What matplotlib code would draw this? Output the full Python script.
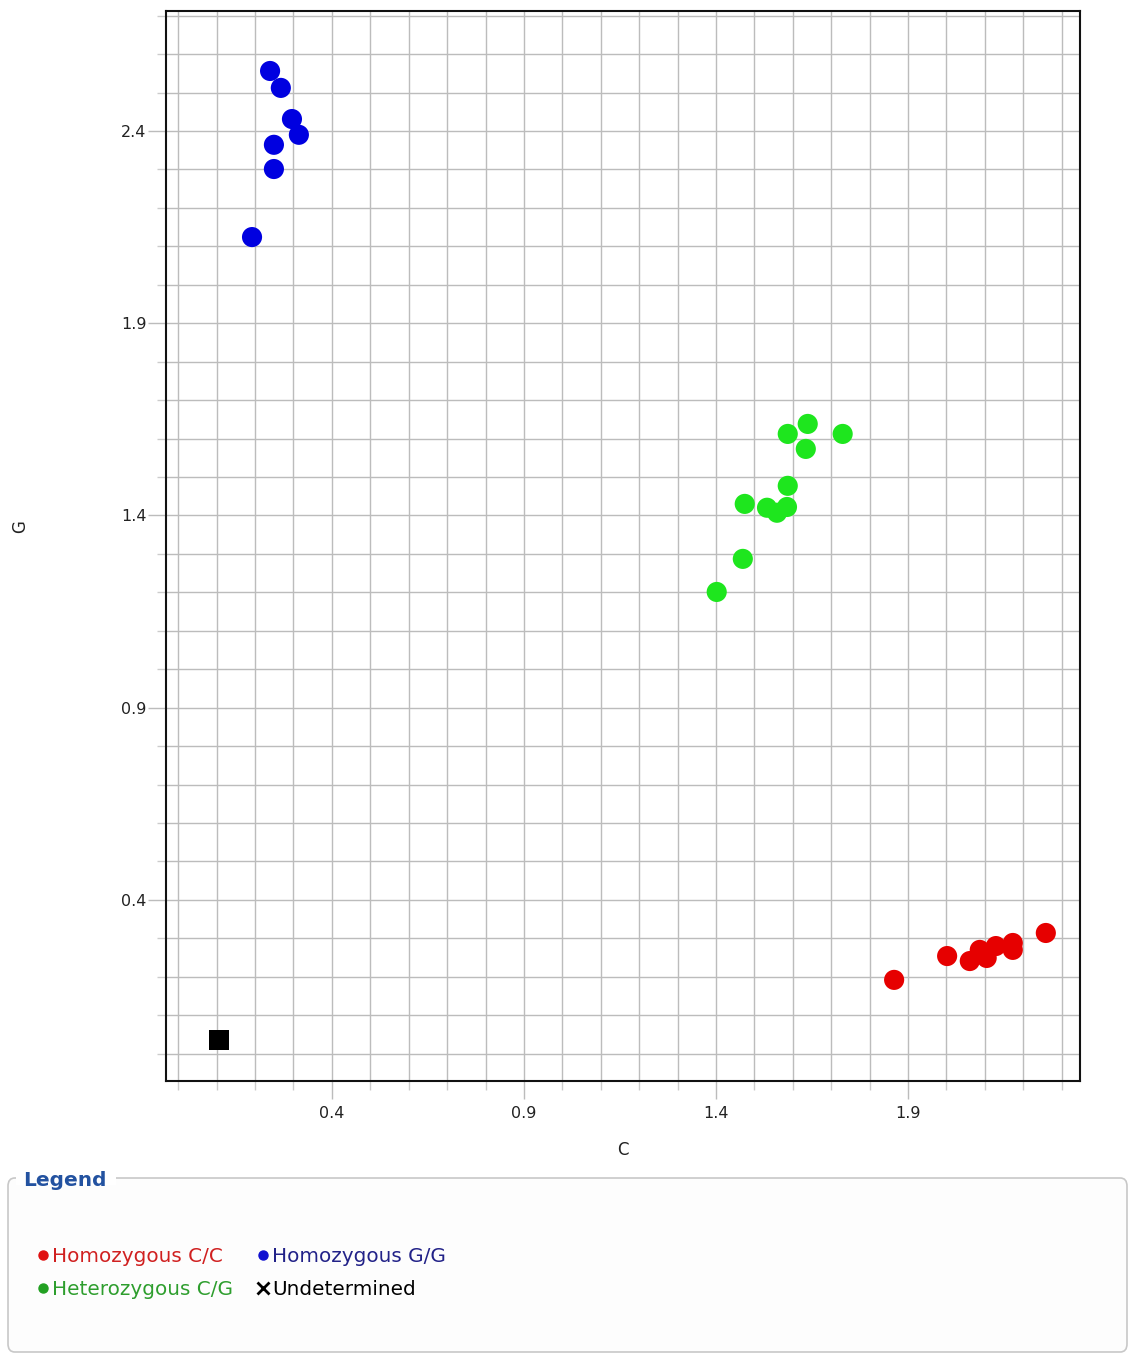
import matplotlib
matplotlib.use('Agg')
import matplotlib.pyplot as plt
import numpy as np
from matplotlib.lines import Line2D
from matplotlib.patches import FancyBboxPatch, Rectangle

# allele signal values
gg_c = [0.239, 0.267, 0.296, 0.314, 0.249, 0.249, 0.192]
gg_g = [2.556, 2.512, 2.431, 2.390, 2.364, 2.301, 2.124]

cg_c = [1.639, 1.587, 1.730, 1.634, 1.587, 1.475, 1.533, 1.559, 1.585, 1.470, 1.402]
cg_g = [1.638, 1.612, 1.612, 1.573, 1.477, 1.430, 1.420, 1.407, 1.422, 1.287, 1.201]

cc_c = [1.864, 2.002, 2.061, 2.087, 2.105, 2.129, 2.173, 2.173, 2.259]
cc_g = [0.192, 0.254, 0.241, 0.270, 0.249, 0.280, 0.288, 0.270, 0.314]

ntc_c = [0.105]
ntc_g = [0.036]

major_ticks = [0.4, 0.9, 1.4, 1.9, 2.4]
legend_labels = ['Homozygous C/C', 'Heterozygous C/G', 'Homozygous G/G', 'Undetermined']

fig = plt.figure(figsize=(11.29, 13.55), dpi=100)
ax = fig.add_axes([166/1129, 274/1355, 914/1129, 1070/1355])

ax.scatter(cc_c, cc_g, s=210, color='#e60000', edgecolors='none', zorder=3)
ax.scatter(cg_c, cg_g, s=210, color='#1ee61e', edgecolors='none', zorder=3)
ax.scatter(gg_c, gg_g, s=210, color='#0000e0', edgecolors='none', zorder=3)
ax.scatter(ntc_c, ntc_g, s=210, marker='s', color='black', edgecolors='none', zorder=3)

ax.set_xticks(major_ticks)
ax.set_yticks(major_ticks)
ax.set_xticks(np.arange(0, 2.35, 0.1), minor=True)
ax.set_yticks(np.arange(0, 2.75, 0.1), minor=True)
# limits after ticks, set_ticks would widen them
ax.set_xlim(-0.032, 2.348)
ax.set_ylim(-0.071, 2.712)
ax.grid(which='both', color='#bcbcbc', linewidth=1.0)
ax.set_axisbelow(True)

ax.tick_params(which='major', length=13, width=1.0, color='#bcbcbc', labelsize=11.5, labelcolor='#222222')
ax.tick_params(axis='x', which='major', pad=5)
ax.tick_params(axis='y', which='major', pad=1)
ax.tick_params(which='minor', length=6.5, width=1.0, color='#cccccc')

for sp in ax.spines.values():
    sp.set_linewidth(1.5)
    sp.set_color('#111111')

ax.set_xlabel('C', fontsize=12, color='#222222')
ax.set_ylabel('G', fontsize=12, color='#222222')
ax.xaxis.set_label_coords(0.5, -0.056)
ax.yaxis.set_label_coords(-0.150, 0.518)

# legend box (fieldset style)
box = FancyBboxPatch((8/1129, 3/1355), 1119/1129, 174/1355, transform=fig.transFigure,
                     boxstyle='round,pad=0,rounding_size=0.006', facecolor='#fdfdfd',
                     edgecolor='#c8c8c8', linewidth=1.2)
fig.add_artist(box)
fig.add_artist(Rectangle((16/1129, 170/1355), 100/1129, 14/1355,
                         transform=fig.transFigure, facecolor='white', edgecolor='none'))
fig.text(23/1129, 1 - 1181/1355, 'Legend', fontsize=14.5, fontweight='bold',
         color='#2352a0', va='center', ha='left')

handles = [
    Line2D([], [], marker='o', linestyle='none', markersize=6.5, color='#e01010'),
    Line2D([], [], marker='o', linestyle='none', markersize=6.5, color='#22a022'),
    Line2D([], [], marker='o', linestyle='none', markersize=6.5, color='#1010d0'),
    Line2D([], [], marker='x', linestyle='none', markersize=9, markeredgewidth=2, color='black'),
]
leg = fig.legend(handles, legend_labels, loc='upper left', bbox_to_anchor=(37/1129, 1 - 1247/1355),
                 ncol=2, frameon=False, fontsize=14.4, handlelength=0.6, handletextpad=0.15,
                 columnspacing=1.2, labelspacing=0.72, borderpad=0, borderaxespad=0)
text_colors = ['#d02020', '#2e9e2e', '#222288', 'black']
for t, c in zip(leg.get_texts(), text_colors):
    t.set_color(c)

fig.savefig('out.png', dpi=100)
